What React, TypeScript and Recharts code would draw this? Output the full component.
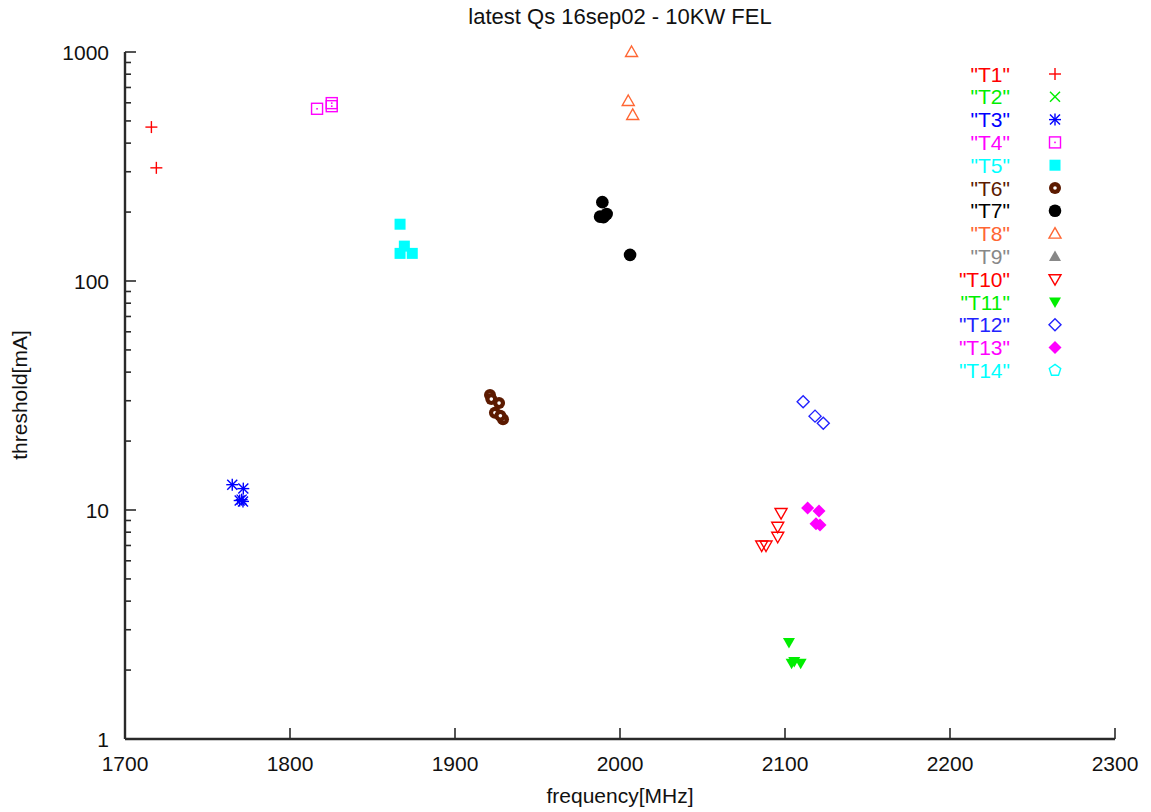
import React from "react"
import { ScatterChart, Scatter, XAxis, YAxis, Legend } from "recharts"

type Pt = [number, number]

// [frequency MHz, threshold mA]
const T1: Pt[] = [[1716, 470], [1719, 312]]
const T2: Pt[] = []
const T3: Pt[] = [[1765, 12.9], [1771.7, 12.4], [1770.7, 11.1], [1771.5, 10.9], [1769.5, 11.0]]
const T4: Pt[] = [[1816.4, 565], [1825.3, 598], [1825.3, 580]]
const T5: Pt[] = [[1866.7, 177], [1869.3, 142], [1866.7, 132], [1874.1, 132]]
const T6: Pt[] = [[1921.2, 31.8], [1922, 30.5], [1926.7, 29.3], [1924.2, 26.6], [1929.1, 24.9], [1927.5, 25.8]]
const T7: Pt[] = [[1989.3, 221], [1987.9, 191], [1991.9, 196], [1990, 190], [2006.1, 130]]
const T8: Pt[] = [[2007, 1000], [2005, 611], [2007.7, 531]]
const T9: Pt[] = []
const T10: Pt[] = [[2097.6, 9.7], [2095.6, 8.45], [2095.6, 7.64], [2085.9, 7.0], [2088.5, 7.0]]
const T11: Pt[] = [[2102.4, 2.64], [2105.6, 2.18], [2109.5, 2.14], [2104, 2.14]]
const T12: Pt[] = [[2111, 29.7], [2118.2, 25.7], [2123.2, 23.9]]
const T13: Pt[] = [[2113.7, 10.2], [2120.6, 9.9], [2118.8, 8.7], [2121.2, 8.6]]
const T14: Pt[] = []

const X_TICKS = [1700, 1800, 1900, 2000, 2100, 2200, 2300]
const Y_MAJOR = [1, 10, 100, 1000]
const Y_TICKS = [
  1, 2, 3, 4, 5, 6, 7, 8, 9,
  10, 20, 30, 40, 50, 60, 70, 80, 90,
  100, 200, 300, 400, 500, 600, 700, 800, 900, 1000,
]

const SERIES = [
  { name: "T1", pts: T1, color: "#ff0000", kind: "plus" },
  { name: "T2", pts: T2, color: "#00ee00", kind: "cross" },
  { name: "T3", pts: T3, color: "#0000ff", kind: "star" },
  { name: "T4", pts: T4, color: "#ff00ff", kind: "box" },
  { name: "T5", pts: T5, color: "#00ffff", kind: "boxFill" },
  { name: "T6", pts: T6, color: "#5c1a00", kind: "ring" },
  { name: "T7", pts: T7, color: "#000000", kind: "dot" },
  { name: "T8", pts: T8, color: "#ff6633", kind: "tri" },
  { name: "T9", pts: T9, color: "#888888", kind: "triFill" },
  { name: "T10", pts: T10, color: "#ff0000", kind: "triDown" },
  { name: "T11", pts: T11, color: "#00ee00", kind: "triDownFill" },
  { name: "T12", pts: T12, color: "#2222ff", kind: "diamond" },
  { name: "T13", pts: T13, color: "#ff00ff", kind: "diamondFill" },
  { name: "T14", pts: T14, color: "#00ffff", kind: "pentagon" },
]

const FONT = "'Liberation Sans', Arial, sans-serif"
const AXIS = "#2a2a2a"

function Marker({ kind, cx, cy, color }: { kind: string; cx: number; cy: number; color: string }) {
  const s = 6
  const w = 1.4
  switch (kind) {
    case "plus":
      return <g stroke={color} strokeWidth={w}><line x1={cx - s} x2={cx + s} y1={cy} y2={cy} /><line x1={cx} x2={cx} y1={cy - s} y2={cy + s} /></g>
    case "cross":
      return <g stroke={color} strokeWidth={w}><line x1={cx - 5} x2={cx + 5} y1={cy - 5} y2={cy + 5} /><line x1={cx - 5} x2={cx + 5} y1={cy + 5} y2={cy - 5} /></g>
    case "star":
      return (
        <g stroke={color} strokeWidth={w}>
          <line x1={cx - s} x2={cx + s} y1={cy} y2={cy} /><line x1={cx} x2={cx} y1={cy - s} y2={cy + s} />
          <line x1={cx - 5} x2={cx + 5} y1={cy - 5} y2={cy + 5} /><line x1={cx - 5} x2={cx + 5} y1={cy + 5} y2={cy - 5} />
        </g>
      )
    case "box":
      return <g><rect x={cx - 5.5} y={cy - 5.5} width={11} height={11} fill="none" stroke={color} strokeWidth={w} /><rect x={cx - 0.8} y={cy - 0.8} width={1.6} height={1.6} fill={color} /></g>
    case "boxFill":
      return <rect x={cx - 5.5} y={cy - 5.5} width={11} height={11} fill={color} />
    case "ring":
      return <g><circle cx={cx} cy={cy} r={6} fill={color} /><circle cx={cx} cy={cy} r={1.8} fill="#fff" /></g>
    case "dot":
      return <circle cx={cx} cy={cy} r={6.3} fill={color} />
    case "tri":
      return <polygon points={`${cx},${cy - 6} ${cx + 6},${cy + 4.5} ${cx - 6},${cy + 4.5}`} fill="none" stroke={color} strokeWidth={w} />
    case "triFill":
      return <polygon points={`${cx},${cy - 6} ${cx + 6},${cy + 4.5} ${cx - 6},${cy + 4.5}`} fill={color} />
    case "triDown":
      return <polygon points={`${cx},${cy + 6} ${cx + 6},${cy - 4.5} ${cx - 6},${cy - 4.5}`} fill="none" stroke={color} strokeWidth={w} />
    case "triDownFill":
      return <polygon points={`${cx},${cy + 6} ${cx + 6},${cy - 4.5} ${cx - 6},${cy - 4.5}`} fill={color} />
    case "diamond":
      return <polygon points={`${cx},${cy - 6} ${cx + 6},${cy} ${cx},${cy + 6} ${cx - 6},${cy}`} fill="none" stroke={color} strokeWidth={w} />
    case "diamondFill":
      return <polygon points={`${cx},${cy - 6.5} ${cx + 6.5},${cy} ${cx},${cy + 6.5} ${cx - 6.5},${cy}`} fill={color} />
    default: {
      const pts = [0, 1, 2, 3, 4]
        .map((i) => {
          const a = -Math.PI / 2 + (i * 2 * Math.PI) / 5
          return `${cx + 6 * Math.cos(a)},${cy + 6 * Math.sin(a)}`
        })
        .join(" ")
      return <polygon points={pts} fill="none" stroke={color} strokeWidth={w} />
    }
  }
}

const labelStyle = { fontFamily: FONT, fontSize: 21, fill: "#111" }

const YTickLeft = (props: any) => {
  const { x, y, payload } = props
  const major = Y_MAJOR.includes(payload.value)
  return (
    <g>
      <line x1={x} x2={x + (major ? 11 : 6)} y1={y} y2={y} stroke={AXIS} strokeWidth={1.6} />
      {major && (
        <text x={x - 16} y={y} textAnchor="end" dominantBaseline="central" style={labelStyle}>
          {payload.value}
        </text>
      )}
    </g>
  )
}

const YTickRight = (props: any) => {
  const { x, y, payload } = props
  const major = Y_MAJOR.includes(payload.value)
  return <line x1={x} x2={x - (major ? 11 : 6)} y1={y} y2={y} stroke={AXIS} strokeWidth={1.6} />
}

const XTickBottom = (props: any) => {
  const { x, y, payload } = props
  return (
    <g>
      <line x1={x} x2={x} y1={y} y2={y - 11} stroke={AXIS} strokeWidth={1.6} />
      <text x={x} y={y + 24} textAnchor="middle" dominantBaseline="central" style={labelStyle}>
        {payload.value}
      </text>
    </g>
  )
}

const XTickTop = (props: any) => {
  const { x, y } = props
  return <line x1={x} x2={x} y1={y} y2={y + 11} stroke={AXIS} strokeWidth={1.6} />
}

const LegendBox = () => (
  <svg width={140} height={330}>
    {SERIES.map((s, i) => {
      const y = 14 + i * 22.8
      return (
        <g key={s.name}>
          <text x={70} y={y} textAnchor="end" dominantBaseline="central" style={{ fontFamily: FONT, fontSize: 21, fill: s.color }}>
            {`"${s.name}"`}
          </text>
          <Marker kind={s.kind} cx={115} cy={y} color={s.color} />
        </g>
      )
    })}
  </svg>
)

const centered = (top: number, size: number) => ({
  position: "absolute" as const,
  left: 620,
  top,
  transform: "translateX(-50%)",
  whiteSpace: "nowrap" as const,
  fontSize: size,
  color: "#111",
})

export default function App() {
  const axisLine = { stroke: AXIS, strokeWidth: 2.4 }
  return (
    <div style={{ position: "absolute", left: 0, top: 0, width: 1151, height: 812, background: "#fff", fontFamily: FONT }}>
      <div style={centered(4, 22)}>latest Qs 16sep02 - 10KW FEL</div>
      <div style={centered(784, 21)}>frequency[MHz]</div>
      <div
        style={{
          position: "absolute",
          left: 20,
          top: 395,
          fontSize: 21,
          color: "#111",
          whiteSpace: "nowrap",
          transform: "translate(-50%, -50%) rotate(-90deg)",
        }}
      >
        threshold[mA]
      </div>
      <ScatterChart width={1151} height={812} margin={{ top: 52, right: 36, bottom: 33, left: 65 }}>
        <XAxis
          xAxisId="b"
          type="number"
          dataKey="f"
          domain={[1700, 2300]}
          ticks={X_TICKS}
          interval={0}
          height={40}
          tickSize={0}
          tickMargin={0}
          tickLine={false}
          axisLine={axisLine}
          tick={<XTickBottom />}
        />
        <XAxis
          xAxisId="t"
          orientation="top"
          type="number"
          dataKey="f"
          domain={[1700, 2300]}
          ticks={X_TICKS}
          interval={0}
          height={0}
          tickSize={0}
          tickMargin={0}
          tickLine={false}
          axisLine={axisLine}
          tick={<XTickTop />}
        />
        <YAxis
          yAxisId="l"
          type="number"
          dataKey="v"
          scale="log"
          domain={[1, 1000]}
          ticks={Y_TICKS}
          interval={0}
          width={60}
          tickSize={0}
          tickMargin={0}
          tickLine={false}
          axisLine={axisLine}
          tick={<YTickLeft />}
        />
        <YAxis
          yAxisId="r"
          orientation="right"
          type="number"
          dataKey="v"
          scale="log"
          domain={[1, 1000]}
          ticks={Y_TICKS}
          interval={0}
          width={0}
          tickSize={0}
          tickMargin={0}
          tickLine={false}
          axisLine={axisLine}
          tick={<YTickRight />}
        />
        <Legend
          layout="vertical"
          align="center"
          verticalAlign="middle"
          content={<LegendBox />}
          wrapperStyle={{ position: "absolute", left: 940, top: 60, width: 140, height: 330 }}
        />
        {SERIES.map((s) => (
          <Scatter
            key={s.name}
            name={s.name}
            xAxisId="b"
            yAxisId="l"
            data={s.pts.map(([f, v]) => ({ f, v }))}
            fill={s.color}
            isAnimationActive={false}
            shape={(p: any) => <Marker kind={s.kind} cx={p.cx} cy={p.cy} color={s.color} />}
          />
        ))}
      </ScatterChart>
    </div>
  )
}
